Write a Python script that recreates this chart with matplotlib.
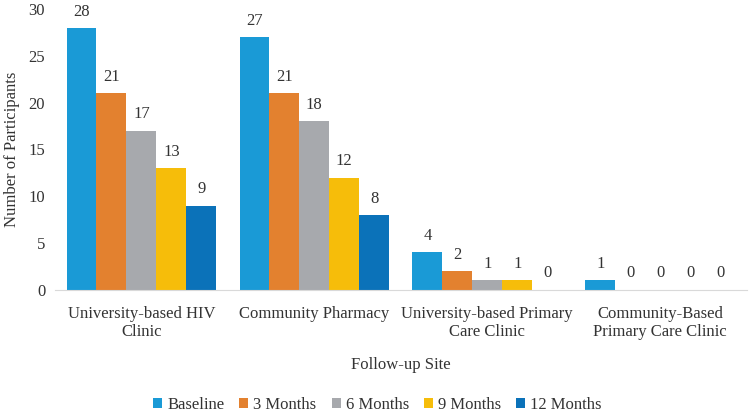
import matplotlib.pyplot as plt
import numpy as np

plt.rcParams['font.family'] = ['Liberation Serif', 'DejaVu Serif']

sites = ["University-based HIV\nClinic", "Community Pharmacy",
         "University-based Primary\nCare Clinic", "Community-Based\nPrimary Care Clinic"]
series = ["Baseline", "3 Months", "6 Months", "9 Months", "12 Months"]
baseline = [28, 27, 4, 1]
m3 = [21, 21, 2, 0]
m6 = [17, 18, 1, 0]
m9 = [13, 12, 1, 0]
m12 = [9, 8, 0, 0]
colors = ["#1A9AD6", "#E3812F", "#A7A9AD", "#F6BD0A", "#0B72B9"]

values = [baseline, m3, m6, m9, m12]

fig = plt.figure(figsize=(7.52, 4.17), dpi=100)
ax = fig.add_axes([0.073, 0.305, 0.92, 0.673])

x = np.arange(len(sites))
w = 0.173
for i, (name, vals) in enumerate(zip(series, values)):
    pos = x - 2 * w + i * w
    bars = ax.bar(pos, vals, width=w, color=colors[i], label=name)
    ax.bar_label(bars, padding=6, fontsize=12, color="#333333")

ax.set_xlim(-0.5, 3.5)
ax.set_ylim(0, 30)
ax.set_yticks(range(0, 31, 5))
ax.set_xticks(x)
ax.set_xticklabels(sites, fontsize=12, linespacing=1.15)
ax.tick_params(axis='y', labelsize=12, length=0, pad=7, colors="#333333")
ax.tick_params(axis='x', length=0, pad=12, colors="#333333")
for s in ["top", "right", "left"]:
    ax.spines[s].set_visible(False)
ax.spines["bottom"].set_color("#D9D9D9")
ax.set_ylabel("Number of Participants", fontsize=12, labelpad=6, color="#333333")
ax.set_xlabel("Follow-up Site", fontsize=12, labelpad=12, color="#333333")

fig.legend(*ax.get_legend_handles_labels(), loc="center", bbox_to_anchor=(0.502, 0.028),
           ncol=5, frameon=False, fontsize=12, handlelength=0.55, handleheight=0.55,
           handletextpad=0.3, columnspacing=0.9, labelcolor="#333333")

fig.savefig("out.png", dpi=100)
